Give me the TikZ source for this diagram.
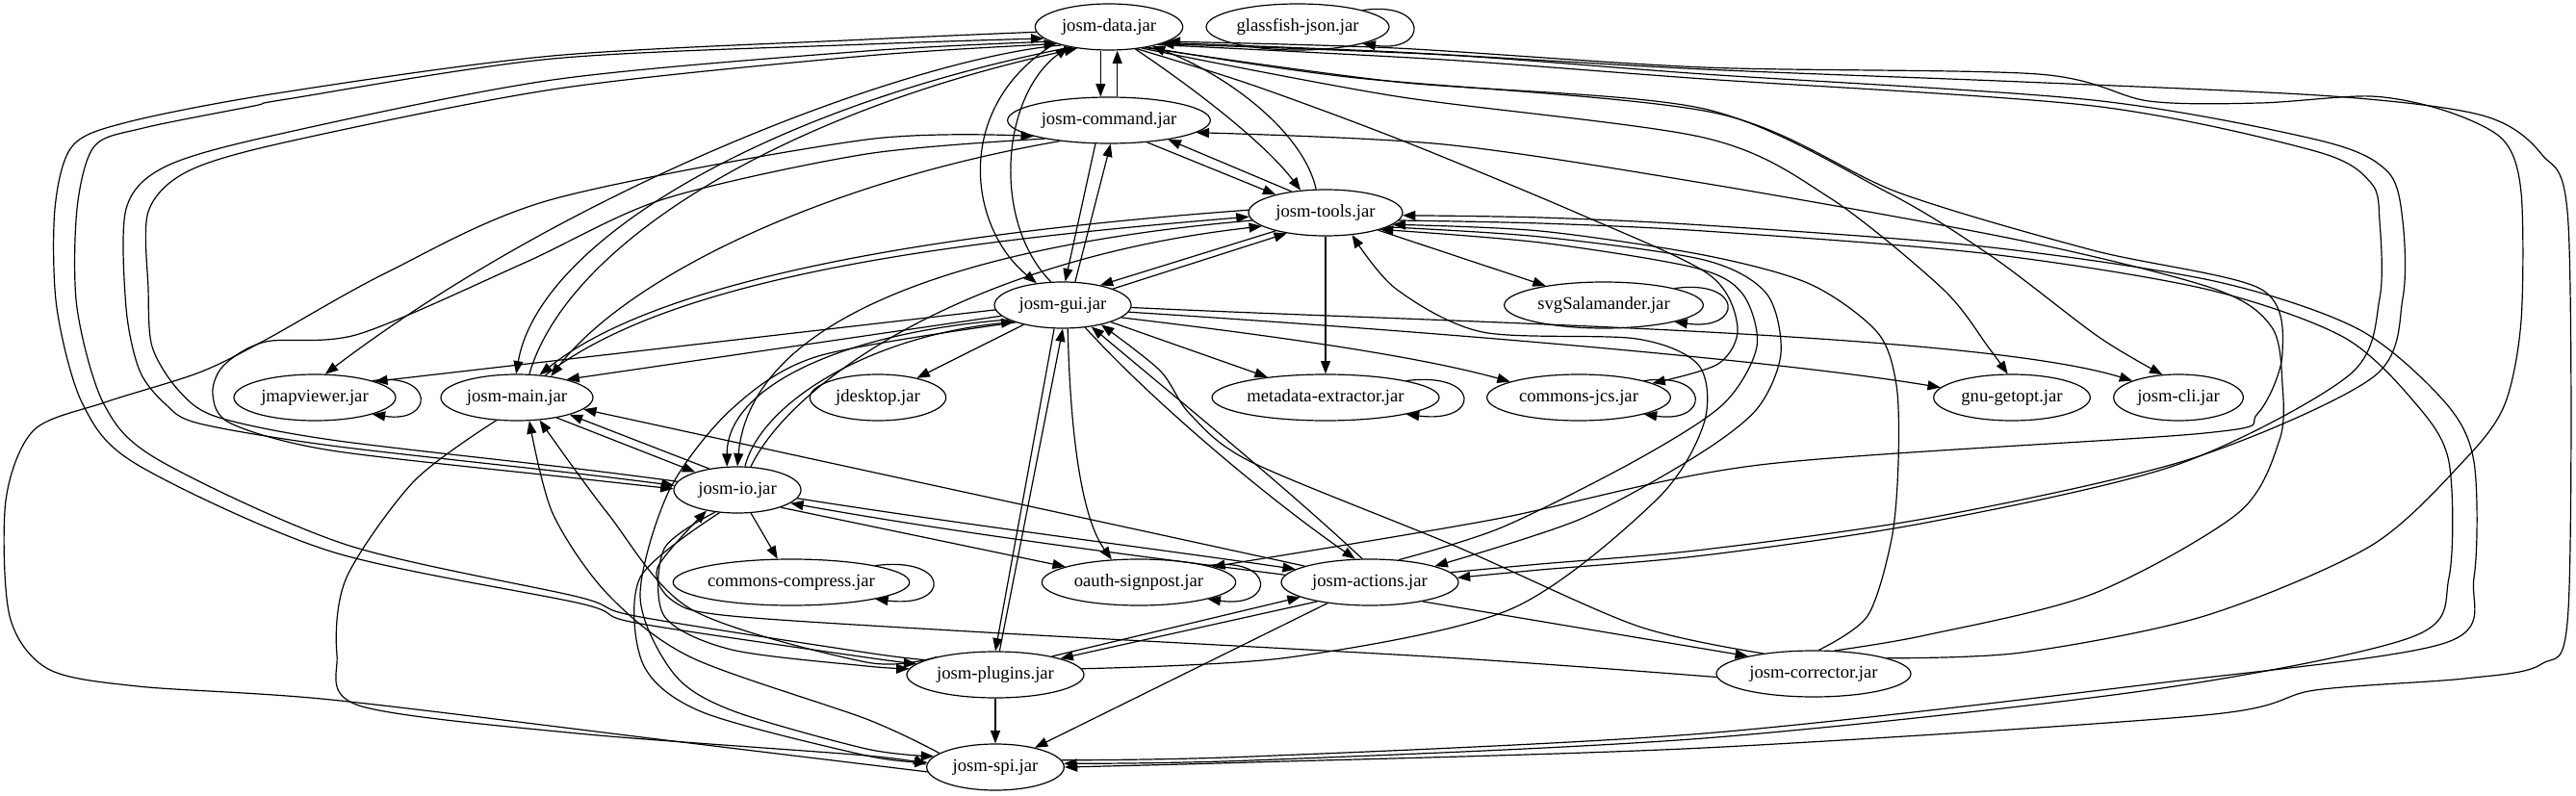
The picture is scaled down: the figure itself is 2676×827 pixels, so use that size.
\documentclass[tikz,border=0pt]{standalone}
\usepackage{fontspec}
\setmainfont{Liberation Serif}
\usetikzlibrary{shapes.geometric,arrows.meta}
\begin{document}
\begin{tikzpicture}[x=0.75pt,y=-0.75pt,
  jar/.style={draw,ellipse,inner sep=0pt,minimum height=36pt,line width=0.9pt,font=\fontsize{14pt}{16pt}\selectfont},
  dep/.style={line width=0.9pt,-{Triangle[length=10pt,width=7.5pt]}}]
\useasboundingbox (0,0) rectangle (2676,827);
% nodes
\node[jar,minimum width=115pt]   (data)     at (1152,28)  {josm-data.jar};
\node[jar,minimum width=142.5pt] (glass)    at (1348,28)  {glassfish-json.jar};
\node[jar,minimum width=158pt]   (cmd)      at (1152,125) {josm-command.jar};
\node[jar,minimum width=120pt]   (tools)    at (1377,221) {josm-tools.jar};
\node[jar,minimum width=106.5pt] (gui)      at (1104,317) {josm-gui.jar};
\node[jar,minimum width=155pt]   (svg)      at (1666,317) {svgSalamander.jar};
\node[jar,minimum width=126pt]   (jmap)     at (327,413)  {jmapviewer.jar};
\node[jar,minimum width=118.5pt] (main)     at (537,413)  {josm-main.jar};
\node[jar,minimum width=106pt]   (jdesk)    at (912,413)  {jdesktop.jar};
\node[jar,minimum width=177pt]   (meta)     at (1377,413) {metadata-extractor.jar};
\node[jar,minimum width=143pt]   (jcs)      at (1640,413) {commons-jcs.jar};
\node[jar,minimum width=122pt]   (getopt)   at (2090,413) {gnu-getopt.jar};
\node[jar,minimum width=101pt]   (cli)      at (2263,413) {josm-cli.jar};
\node[jar,minimum width=99pt]    (io)       at (766,509)  {josm-io.jar};
\node[jar,minimum width=181.5pt] (compress) at (822,605)  {commons-compress.jar};
\node[jar,minimum width=151pt]   (oauth)    at (1183,605) {oauth-signpost.jar};
\node[jar,minimum width=138pt]   (actions)  at (1423,605) {josm-actions.jar};
\node[jar,minimum width=138pt]   (plugins)  at (1034,701) {josm-plugins.jar};
\node[jar,minimum width=151.5pt] (corr)     at (1884,700) {josm-corrector.jar};
\node[jar,minimum width=107pt]   (spi)      at (1034,797) {josm-spi.jar};
% self loops
\draw[dep] (glass.north east) .. controls +(69,-10) and +(69,10) .. (glass.south east);
\draw[dep] (svg.north east) .. controls +(72,-10) and +(72,10) .. (svg.south east);
\draw[dep] (jmap.north east) .. controls +(65,-10) and +(65,10) .. (jmap.south east);
\draw[dep] (meta.north east) .. controls +(78,-10) and +(78,10) .. (meta.south east);
\draw[dep] (jcs.north east) .. controls +(69,-10) and +(69,10) .. (jcs.south east);
\draw[dep] (compress.north east) .. controls +(79,-10) and +(79,10) .. (compress.south east);
\draw[dep] (oauth.north east) .. controls +(71,-10) and +(71,10) .. (oauth.south east);
% data / command / tools / gui core
\draw[dep] ([xshift=-6.5pt]data.south) -- ([xshift=-6.5pt]cmd.north);
\draw[dep] ([xshift=6.5pt]cmd.north) -- ([xshift=6.5pt]data.south);
\draw[dep] (data.-40) .. controls (1245,95) and (1315,150) .. (tools.138);
\draw[dep] (tools.112) .. controls (1355,140) and (1280,80) .. (data.-24);
\draw[dep] (data.197) .. controls (990,110) and (1005,235) .. (gui.140);
\draw[dep] (gui.117) .. controls (1030,230) and (1040,100) .. (data.206);
\draw[dep] (cmd.240) -- (gui.84);
\draw[dep] (gui.62) -- (cmd.274);
\draw[dep] (cmd.-30) -- (tools.160);
\draw[dep] (tools.148) -- (cmd.-18);
\draw[dep] (tools.200) -- (gui.28);
\draw[dep] (gui.18) -- (tools.208);
\draw[dep] (tools) -- (svg);
\draw[dep] (tools) -- (meta);
% gui fan-out
\draw[dep] (gui) -- (jdesk);
\draw[dep] (gui) -- (meta);
\draw[dep] (gui.-12) .. controls (1350,352) and (1480,372) .. (jcs.167);
\draw[dep] (gui.-6) .. controls (1500,345) and (1850,375) .. (getopt.172);
\draw[dep] (gui.-2) .. controls (1500,335) and (2050,345) .. (cli.160);
\draw[dep] (gui.184) -- (jmap.15);
\draw[dep] (gui.190) -- (main.20);
% gui/tools <-> io
\draw[dep] (gui.195) .. controls (880,345) and (755,400) .. (io.114);
\draw[dep] (io.72) .. controls (790,420) and (900,350) .. (gui.199);
\draw[dep] (tools.186) .. controls (1000,255) and (780,330) .. (io.90);
\draw[dep] (io.60) .. controls (820,400) and (1000,270) .. (tools.192);
% main links
\draw[dep] (tools.178) .. controls (1000,240) and (690,285) .. (main.45);
\draw[dep] (main.38) .. controls (700,285) and (1000,250) .. (tools.183);
\draw[dep] (data.208) .. controls (800,110) and (560,250) .. (main.92);
\draw[dep] (main.62) .. controls (590,250) and (820,115) .. (data.214);
\draw[dep] (cmd.203) .. controls (850,190) and (650,290) .. (main.32);
\draw[dep] (data.201) .. controls (950,60) and (600,190) .. (jmap.66);
\draw[dep] (main.-27) -- (io.157);
\draw[dep] (io.143) -- (main.-18);
\draw[dep] (actions.166) -- (main.-10);
% io links
\draw[dep] (io.-8) .. controls (1000,545) and (1200,570) .. (actions.170);
\draw[dep] (actions.175) .. controls (1200,580) and (1000,555) .. (io.-14);
\draw[dep] (io.-22) -- (oauth.168);
\draw[dep] (io) -- (compress);
% left outer routes
\draw[dep] plot[smooth] coordinates {(data.184) (900,41) (574,58) (287,97) (132,127) (75,152) (57,217) (59,320) (86,420) (143,483) (344,573) (603,627) (660,647) (900,683) (plugins.172)};
\draw[dep] plot[smooth] coordinates {(plugins.168) (900,678) (660,640) (600,620) (360,566) (165,478) (108,420) (80,320) (80,217) (98,152) (149,133) (264,110) (298,103) (574,61) (900,46) (data.190)};
\draw[dep] plot[smooth] coordinates {(data.194) (900,53) (574,83) (287,140) (172,173) (131,217) (131,320) (145,385) (172,420) (207,440) (344,463) (600,492) (io.176)};
\draw[dep] plot[smooth] coordinates {(io.172) (600,487) (344,457) (225,433) (185,405) (158,360) (154,300) (154,220) (195,178) (300,147) (580,92) (900,58) (data.198)};
\draw[dep] plot[smooth] coordinates {(cmd.196) (900,160) (689,207) (545,273) (373,347) (276,355) (232,380) (221,410) (240,440) (344,468) (600,497) (io.179)};
\draw[dep] plot[smooth] coordinates {(spi.184) (700,770) (344,727) (143,713) (50,695) (10,640) (6,520) (35,447) (109,418) (207,387) (276,353) (402,283) (574,207) (900,145) (cmd.192)};
\draw[dep] plot[smooth] coordinates {(main.228) (430,500) (360,600) (350,680) (373,733) (600,762) (900,785) (spi.178)};
\draw[dep] plot[smooth] coordinates {(gui.200) (850,370) (760,425) (695,510) (665,620) (700,700) (760,738) (900,778) (spi.170)};
\draw[dep] plot[smooth] coordinates {(io.232) (665,600) (668,690) (730,740) (900,785) (spi.176)};
\draw[dep] plot[smooth] coordinates {(io.225) (690,570) (690,640) (760,675) (900,692) (plugins.176)};
\draw[dep] plot[smooth] coordinates {(corr.182) (1500,683) (1024,657) (760,640) (700,625) (683,590) (io.214)};
\draw[dep] plot[smooth] coordinates {(spi.166) (900,747) (718,683) (631,617) (574,533) (main.-62)};
\draw[dep] plot[smooth] coordinates {(plugins.163) (900,688) (718,633) (631,533) (main.-45)};
% gui lower links
\draw[dep] (gui.-110) -- (plugins.90);
\draw[dep] (plugins.80) -- (gui.-90);
\draw[dep] (gui.-78) .. controls (1112,460) and (1125,540) .. (oauth.140);
\draw[dep] (gui.-45) .. controls (1200,420) and (1320,520) .. (actions.122);
\draw[dep] (actions.108) .. controls (1340,510) and (1230,420) .. (gui.-37);
\draw[dep] plot[smooth] coordinates {(corr.158) (1700,650) (1511,567) (1300,480) (1236,430) (1205,385) (gui.-27)};
% plugins / actions / spi
\draw[dep] (actions.200) -- (plugins.14);
\draw[dep] (plugins.18) -- (actions.192);
\draw[dep] (actions) -- (spi);
\draw[dep] (plugins) -- (spi);
\draw[dep] (actions.-20) -- (corr.165);
% right outer routes
\draw[dep] plot[smooth] coordinates {(tools.-6) (1600,232) (1770,240) (2059,263) (2290,300) (2434,350) (2510,420) (2544,480) (2544,600) (2505,662) (2232,717) (1770,767) (1300,790) (spi.3)};
\draw[dep] plot[smooth] coordinates {(spi.6) (1300,786) (1770,762) (2240,710) (2540,668) (2570,600) (2570,480) (2540,418) (2450,342) (2300,292) (2059,256) (1770,234) (1600,226) (tools.-2)};
\draw[dep] plot[smooth] coordinates {(data.-20) (1500,62) (1770,82) (2174,110) (2405,157) (2463,190) (2472,230) (2472,310) (2440,390) (2261,483) (2001,543) (1770,577) (1600,592) (actions.3)};
\draw[dep] plot[smooth] coordinates {(actions.7) (1600,586) (1770,571) (2010,537) (2275,477) (2465,392) (2496,310) (2496,230) (2480,178) (2410,146) (2174,104) (1770,77) (1500,57) (data.-18)};
\draw[dep] plot[smooth] coordinates {(corr.12) (2100,678) (2290,640) (2463,567) (2561,477) (2602,420) (2619,333) (2619,200) (2600,145) (2540,115) (2463,100) (2348,107) (2232,105) (2117,77) (1770,70) (1450,50) (data.-14)};
\draw[dep] plot[smooth] coordinates {(data.-16) (1450,54) (1770,72) (2100,85) (2423,100) (2579,120) (2640,160) (2668,233) (2668,633) (2640,690) (2560,705) (2405,717) (2290,743) (1770,777) (1300,792) (spi.0)};
\draw[dep] plot[smooth] coordinates {(corr.78) (1940,640) (1965,560) (1972,480) (1970,400) (1950,345) (1880,295) (1770,265) (1600,240) (tools.-10)};
\draw[dep] plot[smooth] coordinates {(tools.-13) (1600,246) (1770,270) (1835,305) (1850,367) (1825,425) (1760,475) (1640,540) (actions.14)};
\draw[dep] plot[smooth] coordinates {(actions.38) (1560,548) (1700,478) (1790,420) (1825,360) (1810,305) (1760,278) (1600,252) (tools.-17)};
\draw[dep] plot[smooth] coordinates {(plugins.4) (1339,683) (1569,633) (1720,520) (1770,440) (1765,380) (1700,352) (1540,345) (1450,300) (tools.-40)};
\draw[dep] plot[smooth] coordinates {(corr.48) (2000,660) (2174,617) (2325,533) (2368,457) (2371,400) (2360,340) (2300,300) (2100,250) (1780,192) (1500,150) (cmd.-8)};
\draw[dep] plot[smooth] coordinates {(data.-28) (1400,80) (1780,117) (1972,200) (2174,260) (2348,300) (2371,367) (2345,430) (2290,450) (1828,483) (1550,540) (oauth.12)};
\draw[dep] plot[smooth] coordinates {(data.-33) (1450,100) (1770,143) (1900,205) (2018,300) (2065,360) (getopt.100)};
\draw[dep] plot[smooth] coordinates {(data.-30) (1450,85) (1770,113) (1961,200) (2070,267) (2180,350) (cli.125)};
\draw[dep] plot[smooth] coordinates {(data.-38) (1300,88) (1454,145) (1640,222) (1775,285) (1805,340) (1785,378) (jcs.11)};
\end{tikzpicture}
\end{document}
